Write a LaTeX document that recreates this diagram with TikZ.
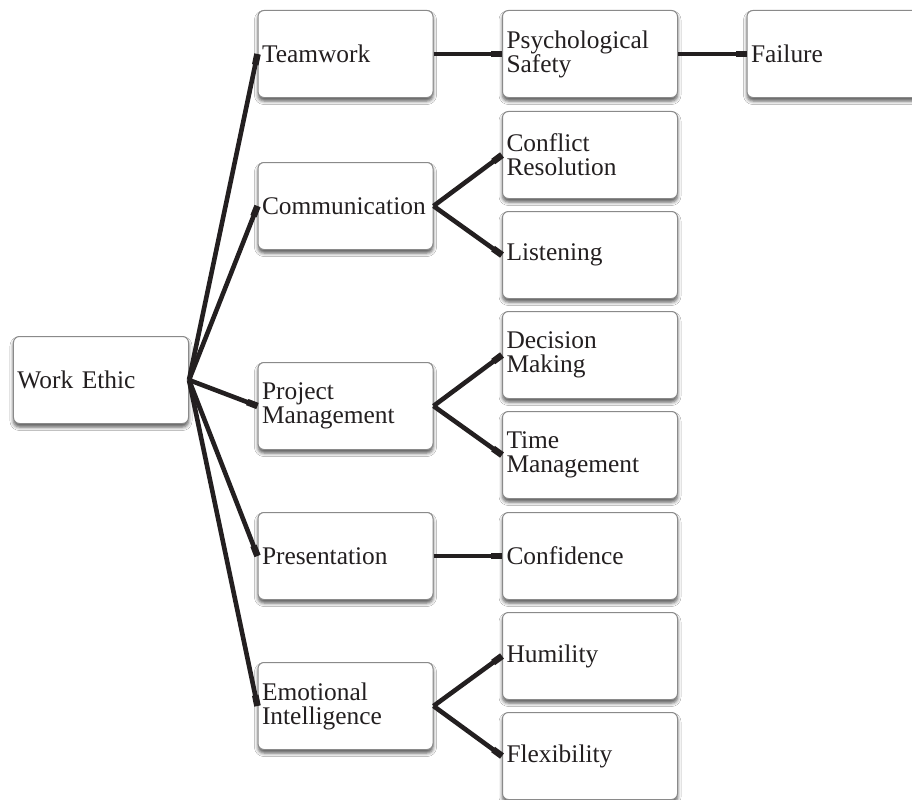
\documentclass[tikz,border=0pt]{standalone}
\usepackage{fontspec}
\setmainfont{Liberation Serif}
\usetikzlibrary{shadows.blur,arrows.meta}
\definecolor{ink}{HTML}{231F20}
\definecolor{rim}{HTML}{8A8A8A}
\tikzset{
  topic/.style={rectangle, rounded corners=6bp, draw=rim, line width=1bp, fill=white,
    minimum width=175bp, minimum height=87bp, text width=167bp, inner xsep=4bp,
    align=left, text=ink, font=\fontsize{25.5}{24}\selectfont,
    blur shadow={shadow xshift=0bp, shadow yshift=-3.5bp, shadow blur radius=3.5bp, shadow opacity=65}},
  link/.style={draw=ink, line width=4.6bp, -{Rectangle[length=11bp,width=6.6bp]}}
}
\begin{document}
\begin{tikzpicture}[x=1bp,y=-1bp]
  \clip (0,0) rectangle (912,800);
  \fill[white] (0,0) rectangle (912,800);
  % root
  \node[topic] (we) at (101,380) {Work Ethic};
  % first level
  \node[topic] (tw) at (345.5,54) {Teamwork};
  \node[topic] (co) at (345.5,206) {Communication};
  \node[topic] (pm) at (345.5,406) {Project\\Management};
  \node[topic] (pr) at (345.5,556) {Presentation};
  \node[topic] (ei) at (345.5,706) {Emotional\\Intelligence};
  % second level
  \node[topic] (ps) at (590,54) {Psychological\\Safety};
  \node[topic] (cr) at (590,155) {Conflict\\Resolution};
  \node[topic] (li) at (590,255) {Listening};
  \node[topic] (dm) at (590,355) {Decision\\Making};
  \node[topic] (tm) at (590,455) {Time\\Management};
  \node[topic] (cf) at (590,556) {Confidence};
  \node[topic] (hu) at (590,656) {Humility};
  \node[topic] (fl) at (590,756) {Flexibility};
  % third level
  \node[topic] (fa) at (834.5,54) {Failure};
  % connectors
  \foreach \c in {tw,co,pm,pr,ei} \draw[link] (we.east) -- (\c.west);
  \draw[link] (tw.east) -- (ps.west);
  \draw[link] (ps.east) -- (fa.west);
  \draw[link] (co.east) -- (cr.west);
  \draw[link] (co.east) -- (li.west);
  \draw[link] (pm.east) -- (dm.west);
  \draw[link] (pm.east) -- (tm.west);
  \draw[link] (pr.east) -- (cf.west);
  \draw[link] (ei.east) -- (hu.west);
  \draw[link] (ei.east) -- (fl.west);
\end{tikzpicture}
\end{document}
